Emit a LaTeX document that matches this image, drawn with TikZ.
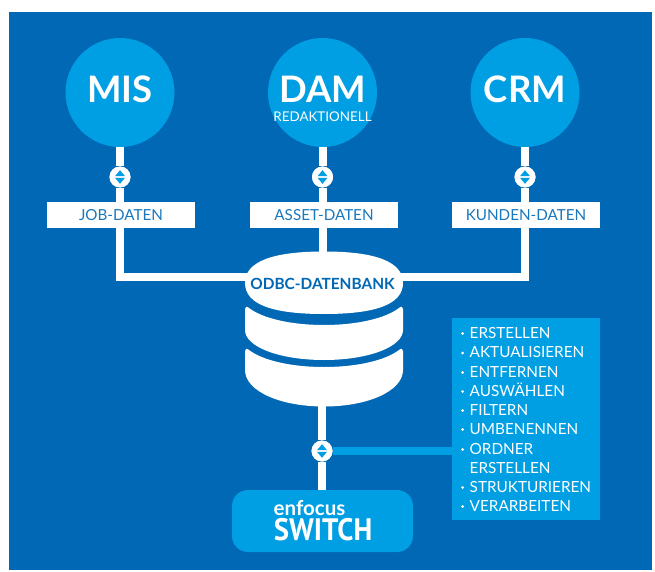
\documentclass[tikz,border=0pt]{standalone}
\usepackage{fontspec}
\setmainfont{Lato}
\newfontfamily\logofont{PT Sans}
\definecolor{dk}{HTML}{0068B4}
\definecolor{lt}{HTML}{009FE3}
\tikzset{
  x=1pt,y=-1pt,
  sysnode/.style={circle,fill=lt,inner sep=0,minimum size=109pt},
  lab/.style={fill=white,text=dk!90!white,minimum width=148pt,minimum height=26pt,inner sep=0,font=\fontsize{15.2}{15.2}\selectfont},
  conn/.style={draw=white,line width=8pt},
  hub/.style={circle,fill=white,inner sep=0,minimum size=21pt},
  tri/.style={fill=lt,draw=none},
  listitem/.style={anchor=base west,inner sep=0,text=white,font=\fontsize{15.3}{15.3}\selectfont},
  dot/.style={circle,fill=white,inner sep=0,minimum size=3pt},
  bigname/.style={text=white,font=\fontsize{36.5}{36.5}\selectfont\bfseries},
}
\newcommand{\hubarrows}[1]{%
  \fill[tri] ([xshift=-5pt,yshift=0.8pt]#1.center) -- ([yshift=6.8pt]#1.center) -- ([xshift=5pt,yshift=0.8pt]#1.center) -- cycle;
  \fill[tri] ([xshift=-5pt,yshift=-0.8pt]#1.center) -- ([yshift=-6.8pt]#1.center) -- ([xshift=5pt,yshift=-0.8pt]#1.center) -- cycle;}
\begin{document}
\begin{tikzpicture}
\useasboundingbox (0,0) rectangle (655,572);
\fill[white] (0,0) rectangle (655,572);
\fill[dk] (9,12) rectangle (652,570);
% nodes
\node[sysnode] (mis) at (120,92.5) {};
\node[sysnode] (dam) at (322.5,92.5) {};
\node[sysnode] (crm) at (525,92.5) {};
\node[hub] (h1) at (120,177) {};
\node[hub] (h2) at (322.5,177) {};
\node[hub] (h3) at (525,177) {};
\node[lab] (l1) at (121,215) {JOB-DATEN};
\node[lab] (l2) at (324,215) {ASSET-DATEN};
\node[lab] (l3) at (526,215) {KUNDEN-DATEN};
\coordinate (db) at (322.5,277);
\coordinate (dbb) at (322,400);
\node[hub] (h4) at (322,451) {};
\node[minimum width=181pt,minimum height=62pt,rounded corners=16pt,fill=lt,inner sep=0] (sw) at (322.5,521) {};
\node[fill=lt,minimum width=148pt,minimum height=202pt,inner sep=0] (list) at (526,419) {};
% connectors
\draw[conn] (mis) -- (h1) -- (l1.north -| h1);
\draw[conn] (dam) -- (h2) -- (l2.north -| h2);
\draw[conn] (crm) -- (h3) -- (l3.north -| h3);
\draw[conn] (l1.south -| h1) |- (db);
\draw[conn] (l2.south -| h2) -- (db);
\draw[conn] (l3.south -| h3) |- (db);
\draw[conn] (dbb) -- (h4) -- (sw.north -| h4);
\draw[draw=lt,line width=7.5pt] (h4) -- (list.west |- h4);
% redraw hubs on top
\node[hub] at (h1) {};\node[hub] at (h2) {};\node[hub] at (h3) {};\node[hub] at (h4) {};
\hubarrows{h1}\hubarrows{h2}\hubarrows{h3}\hubarrows{h4}
% database
\fill[white] (245,283) .. controls (245,261) and (274,251.5) .. (324,251.5) .. controls (374,251.5) and (403,261) .. (403,283) .. controls (403,305) and (374,314) .. (324,314) .. controls (274,314) and (245,305) .. (245,283) -- cycle;
\fill[white] (245,309) .. controls (245,306.5) and (247,306) .. (249,308) .. controls (262,318) and (290,325) .. (324,325) .. controls (358,325) and (386,318) .. (399,308) .. controls (401,306) and (403,306.5) .. (403,309) -- (403,330) .. controls (403,347) and (368,360) .. (324,360) .. controls (280,360) and (245,347) .. (245,330) -- cycle;
\fill[white] (245,351) .. controls (245,348.5) and (247,348) .. (249,350) .. controls (262,360) and (290,367) .. (324,367) .. controls (358,367) and (386,360) .. (399,350) .. controls (401,348) and (403,348.5) .. (403,351) -- (403,370) .. controls (403,391) and (368,406.5) .. (324,406.5) .. controls (280,406.5) and (245,391) .. (245,370) -- cycle;
% text
\node[bigname] at (mis) [yshift=3.5pt] {MIS};
\node[bigname] at (dam) [yshift=3.5pt] {DAM};
\node[text=white,font=\fontsize{13.4}{13.4}\selectfont] at (322.5,117) {REDAKTIONELL};
\node[bigname] at (crm) [yshift=3.5pt] {CRM};
\node[text=dk,font=\fontsize{15.4}{15.4}\selectfont\bfseries] at (322.5,283.5) {ODBC-DATENBANK};
\node[text=white,anchor=base,inner sep=0,font=\fontsize{20.5}{20.5}\selectfont\bfseries] at (309.5,515) {enfocus};
\node[text=white,anchor=base,inner sep=0,font=\logofont\fontsize{31}{31}\selectfont\bfseries] at (323,540) {\scalebox{.93}[1]{SWITCH}};
% list
\foreach \y/\t/\d in {338/ERSTELLEN/1,357.5/AKTUALISIEREN/1,377/ENTFERNEN/1,396/AUSWÄHLEN/1,415/FILTERN/1,434/UMBENENNEN/1,454/ORDNER/1,473/ERSTELLEN/0,492/STRUKTURIEREN/1,511/VERARBEITEN/1}{
  \node[listitem] at (469.5,\y) {\t};
  \ifnum\d=1 \node[dot] at (462.5,\y-4.5) {};\fi
}
\end{tikzpicture}
\end{document}
